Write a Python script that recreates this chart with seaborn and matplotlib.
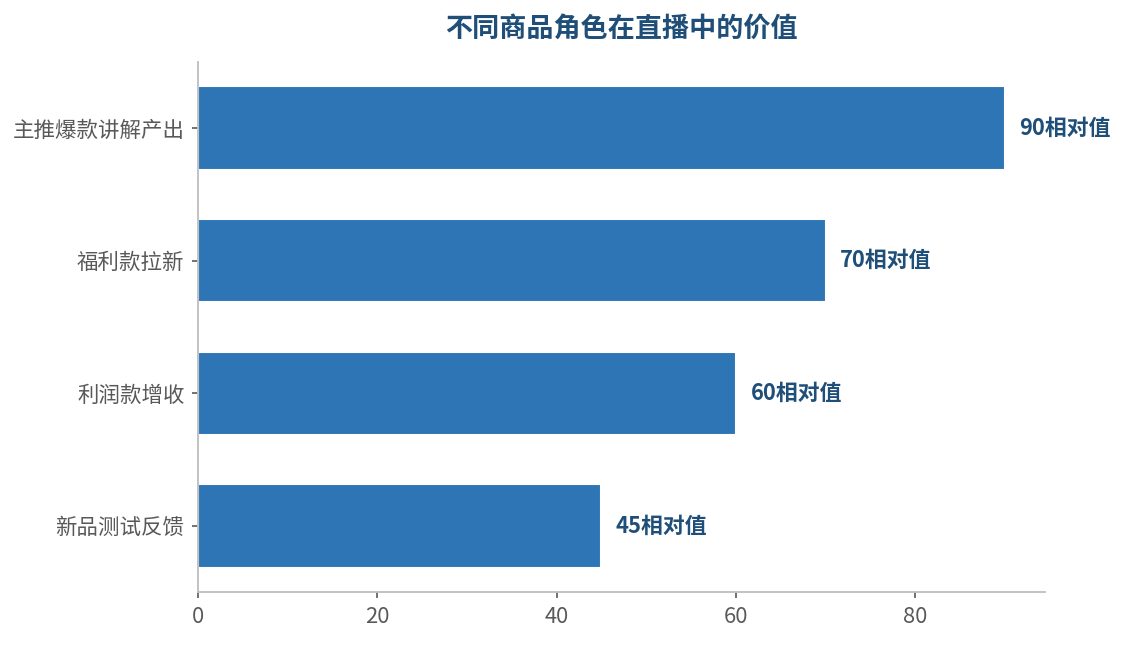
import matplotlib
matplotlib.use("Agg")
import matplotlib.pyplot as plt
import seaborn as sns
import pandas as pd

categories = ["主推爆款讲解产出", "福利款拉新", "利润款增收", "新品测试反馈"]
values = [90, 70, 60, 45]
value_suffix = "相对值"
title = "不同商品角色在直播中的价值"

sns.set_theme(style="white")
plt.rcParams['font.family'] = ['Noto Sans CJK SC', 'DejaVu Sans']

df = pd.DataFrame({"category": categories, "value": values})

fig = plt.figure(figsize=(7.5, 4.3), dpi=150)
ax = fig.add_axes([0.176, 0.082, 0.753, 0.822])

sns.barplot(data=df, x="value", y="category", color="#2e75b6", saturation=1,
            width=0.63, ax=ax, orient="h")

ax.set_xlim(0, max(values) * 1.05)
ax.set_xlabel("")
ax.set_ylabel("")
ax.set_title(title, fontsize=13, fontweight="bold", color="#1f4e79", pad=12)

for c in ax.containers:
    ax.bar_label(c, labels=[f"{v}{value_suffix}" for v in values], padding=7,
                 fontsize=10.5, fontweight="bold", color="#1f4e79")

for s in ["top", "right"]:
    ax.spines[s].set_visible(False)
for s in ["left", "bottom"]:
    ax.spines[s].set_color("#c0c0c0")
    ax.spines[s].set_linewidth(0.9)

ax.tick_params(axis="both", colors="#595959", labelsize=10.3, length=3, width=0.8,
               left=True, bottom=True)
ax.tick_params(axis="x", labelsize=10.5)

fig.savefig("out.png", dpi=150)
